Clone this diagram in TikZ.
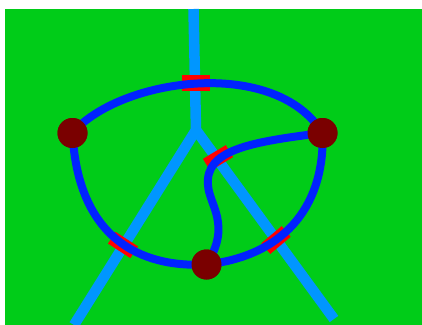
\documentclass[tikz,border=0pt]{standalone}
\begin{document}
\definecolor{bggreen}{RGB}{0,204,24}
\definecolor{lblue}{RGB}{0,150,255}
\definecolor{dblue}{RGB}{0,34,255}
\definecolor{dot}{RGB}{122,0,0}
\definecolor{mred}{RGB}{255,0,0}
\begin{tikzpicture}[x=0.75pt,y=-0.75pt,
  road/.style={draw=lblue,line width=7.9pt},
  loop/.style={draw=dblue,line width=6pt},
  marker/.style={fill=mred,inner sep=0pt,minimum width=20pt,minimum height=10.5pt},
  vertex/.style={circle,fill=dot,inner sep=0pt,minimum size=22.5pt}]
\useasboundingbox (0,0) rectangle (422,325);
\fill[bggreen] (5,9) rectangle (422,325);
% light blue lines
\coordinate (T) at (193.5,9);
\coordinate (J) at (196,130);
\coordinate (EL) at (74,325);
\coordinate (ER) at (334,319);
\draw[road] (T) -- (J) -- (EL);
\draw[road] (J) -- (ER);
% red markers
\node[marker,minimum width=21pt,minimum height=12pt] (m1) at (196,82.5) {};
\node[marker,rotate=31] (m2) at (218,158) {};
\node[marker,rotate=-33] (m3) at (123,245) {};
\node[marker,rotate=40] (m4) at (276,240) {};
% vertices
\node[vertex] (L) at (72.5,133) {};
\node[vertex] (R) at (322.5,133) {};
\node[vertex] (B) at (206.5,264.5) {};
% blue loop
\draw[loop] (L.center) .. controls (120,78) and (275,56) .. (R.center);
\draw[loop] (R.center) .. controls (325,200) and (290,255) .. (B.center);
\draw[loop] (B.center) .. controls (140,268) and (78,238) .. (L.center);
\draw[loop] (R.center) .. controls (250,142) and (205,150) .. (208,185) .. controls (209,205) and (232,225) .. (B.center);
% vertices on top
\node[vertex] at (L) {};
\node[vertex] at (R) {};
\node[vertex] at (B) {};
\end{tikzpicture}
\end{document}
